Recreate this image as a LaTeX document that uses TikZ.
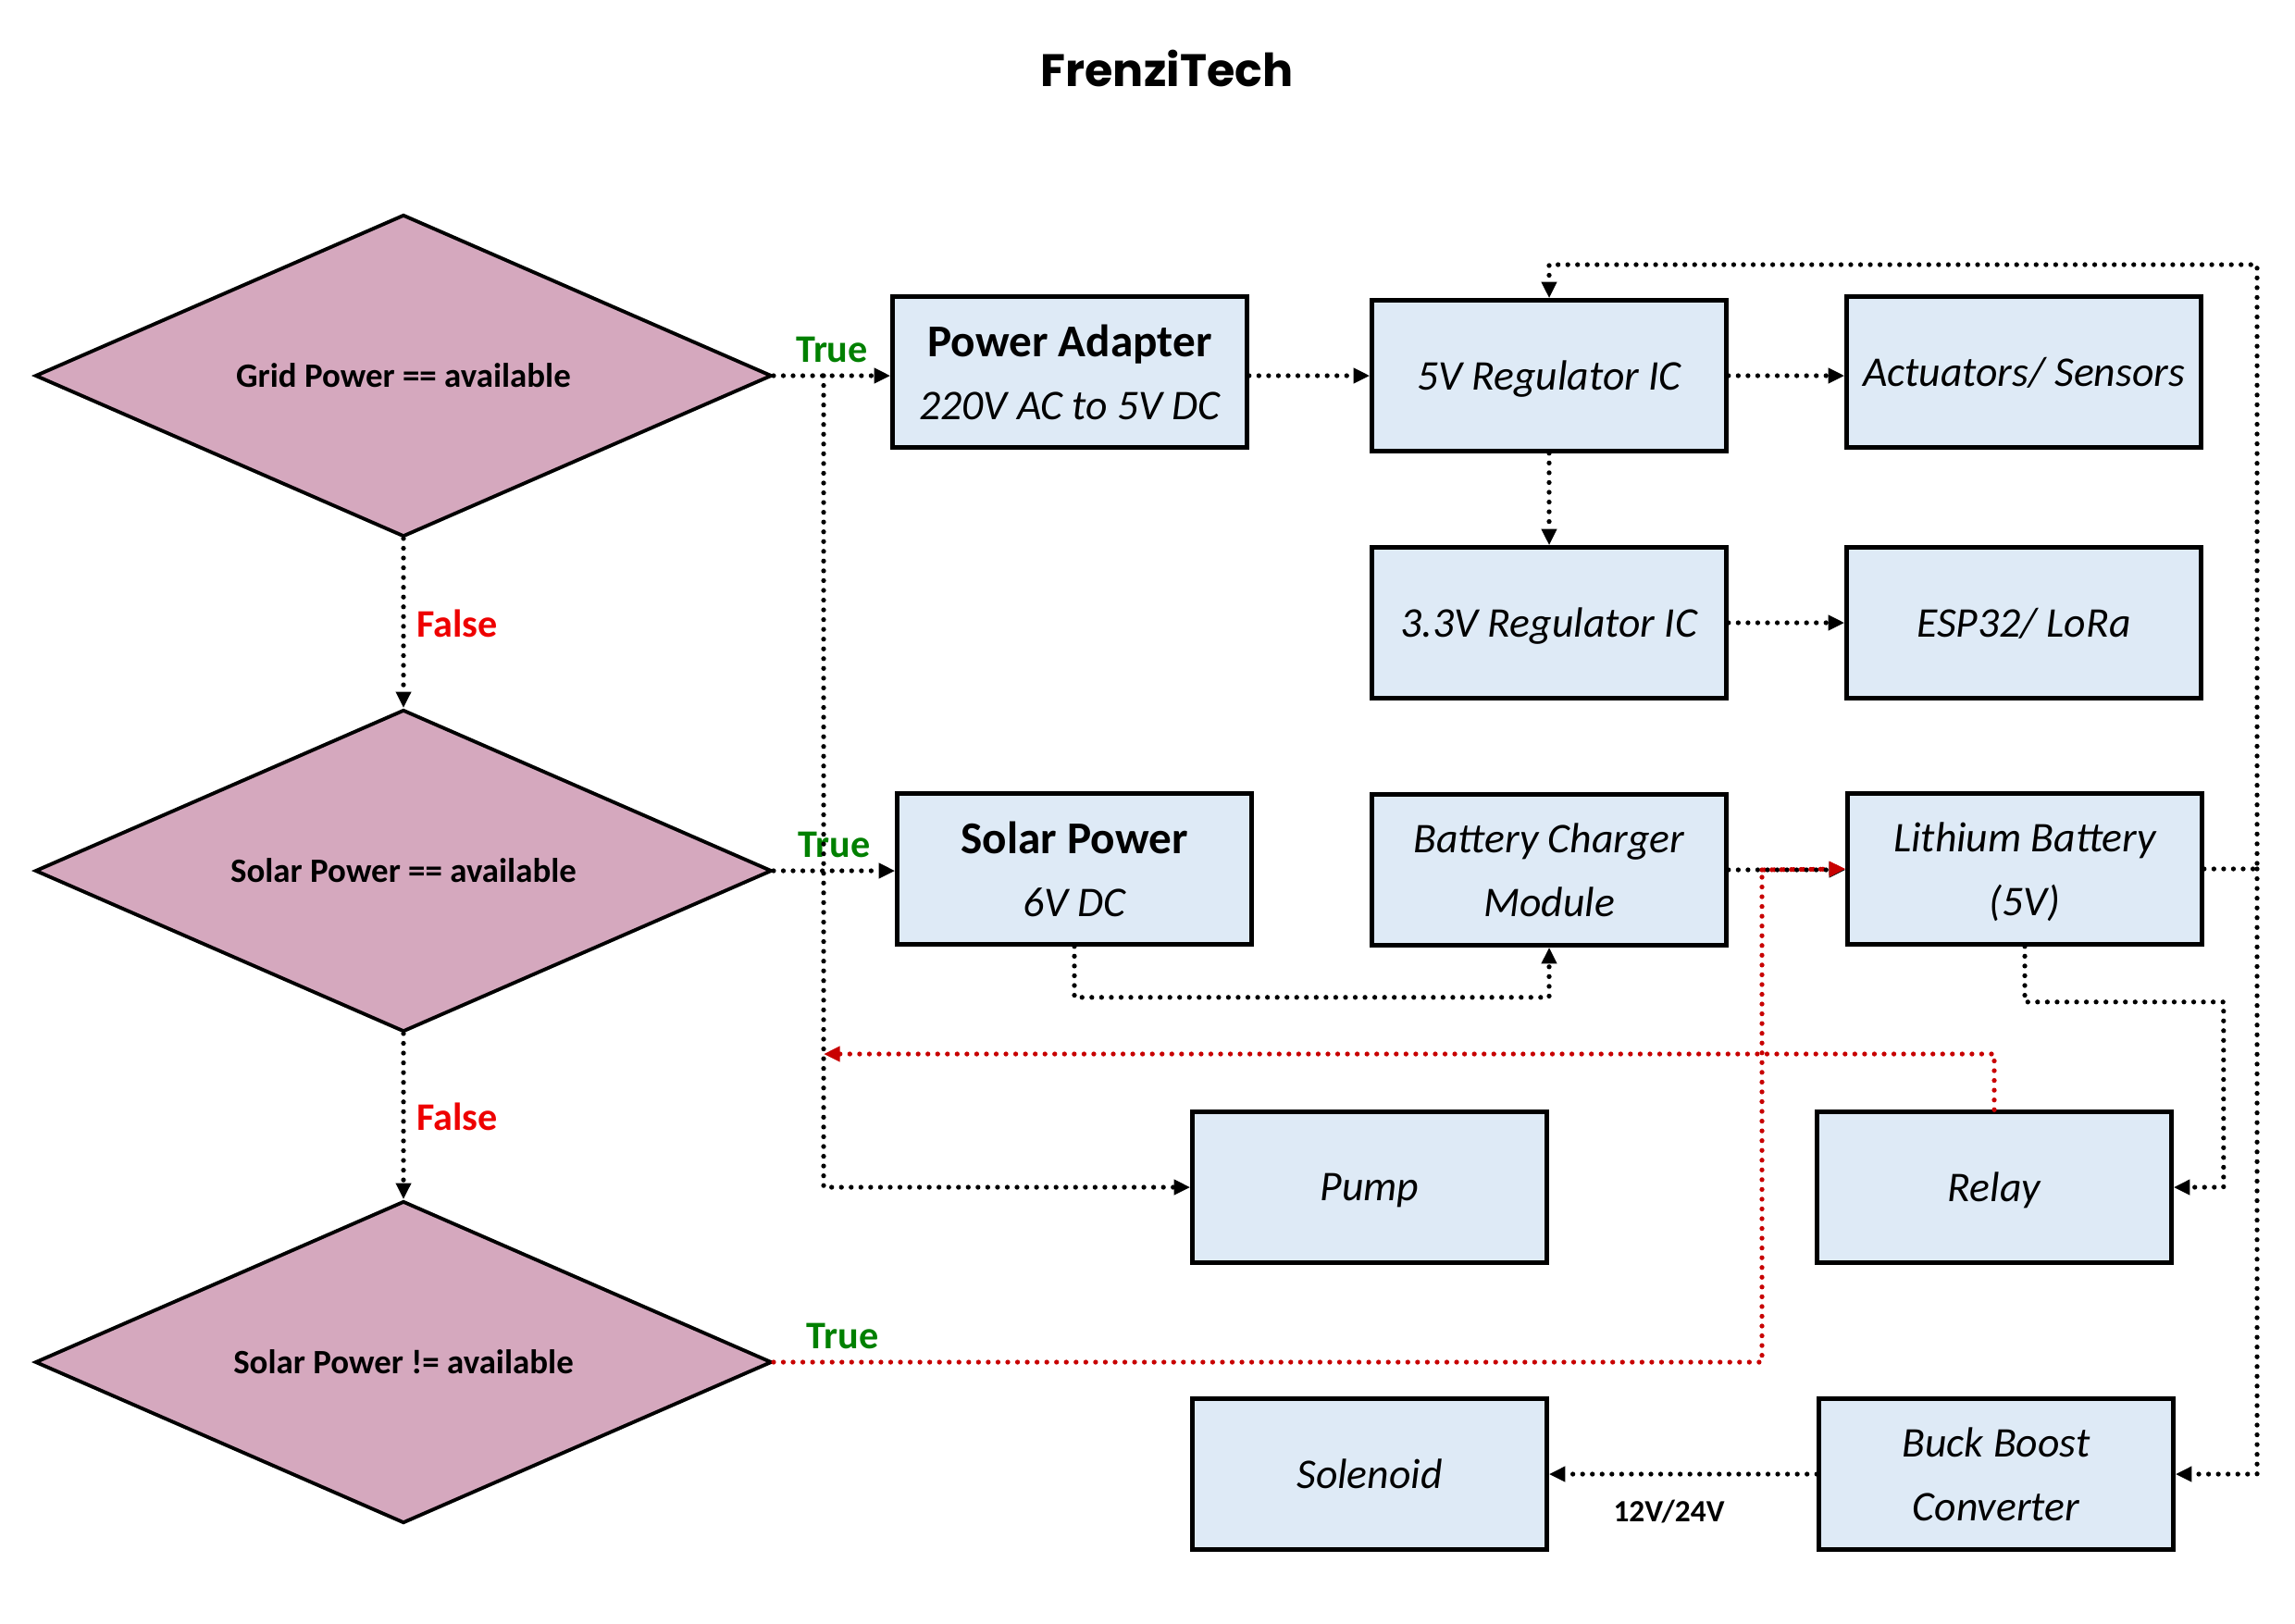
\documentclass[tikz,border=0pt]{standalone}
\usepackage{fontspec}
\setmainfont{Carlito}
\newfontfamily\titlefont{Poppins}
\usetikzlibrary{shapes.geometric,arrows.meta}

\definecolor{boxblue}{RGB}{222,234,246}
\definecolor{diamondpink}{RGB}{213,168,190}
\definecolor{truegreen}{RGB}{0,128,0}
\definecolor{falsered}{RGB}{238,0,0}
\definecolor{linered}{RGB}{200,0,0}

\begin{document}
\begin{tikzpicture}[
  >={Triangle[length=5pt,width=4.5pt]},
  decision/.style={
    draw,
    diamond,
    aspect=2.3,
    line width=1.1pt,
    fill=diamondpink,
    minimum width=7.96cm,
    minimum height=3.48cm,
    inner sep=0pt,
    font=\fontsize{10.5}{12}\selectfont\bfseries
  },
  box/.style={
    draw,
    rectangle,
    align=center,
    minimum width=3.83cm,
    minimum height=1.63cm,
    text depth=0pt,
    line width=1.3pt,
    fill=boxblue,
    font=\fontsize{13}{19.5}\selectfont\itshape
  },
  conn/.style={->, line width=1.5pt, line cap=round, dash pattern=on 0pt off 3pt},
  redconn/.style={conn, draw=linered},
  truelbl/.style={text=truegreen, font=\fontsize{12}{14}\selectfont\bfseries},
  falselbl/.style={text=falsered, font=\fontsize{12}{14}\selectfont\bfseries}
]

\useasboundingbox (0,0) rectangle (24.8,-17.54);

\node[font=\fontsize{14}{16}\titlefont\bfseries\selectfont] (title) at (12.61,-0.74) {FrenziTech};

% decisions
\node[decision] (grid) at (4.36,-4.06) {Grid Power == available};
\node[decision] (solar) at (4.36,-9.41) {Solar Power == available};
\node[decision] (nosolar) at (4.36,-14.72) {Solar Power != available};

% blocks
\node[box] (adapter) at (11.56,-4.02) {{\upshape\bfseries\fontsize{14}{19.5}\selectfont Power Adapter}\\220V AC to 5V DC};
\node[box] (reg5) at (16.74,-4.06) {5V Regulator IC};
\node[box] (act) at (21.87,-4.02) {Actuators/ Sensors};
\node[box] (reg33) at (16.74,-6.73) {3.3V Regulator IC};
\node[box] (esp) at (21.87,-6.73) {ESP32/ LoRa};
\node[box] (solarpw) at (11.61,-9.39) {{\upshape\bfseries\fontsize{14}{19.5}\selectfont Solar Power}\\6V DC};
\node[box] (charger) at (16.74,-9.40) {Battery Charger\\Module};
\node[box] (battery) at (21.88,-9.39) {Lithium Battery\\(5V)};
\node[box] (pump) at (14.80,-12.83) {Pump};
\node[box] (relay) at (21.55,-12.83) {Relay};
\node[box] (solenoid) at (14.80,-15.93) {Solenoid};
\node[box] (buck) at (21.57,-15.93) {Buck Boost\\Converter};

\coordinate (split) at (8.90,-4.06);
\coordinate (bus) at (8.90,-11.39);
\coordinate (rail) at (24.39,-2.86);

% decision flow
\draw[conn] (grid.east) -- node[truelbl, above] {True} (grid.east -| adapter.west);
\draw[conn] (solar.east) -- node[truelbl, above] {True} (solar.east -| solarpw.west);
\draw[conn] (grid.south) -- node[falselbl, right=0pt] {False} (solar.north);
\draw[conn] (solar.south) -- node[falselbl, right=0pt] {False} (nosolar.north);
\draw[conn] (split) |- (pump.west);
\draw[redconn] (nosolar.east) -| node[truelbl, above, pos=0.035] {True} (19.04,-9.40) -- (battery.west);

% power chain
\draw[conn] (adapter.east |- reg5.west) -- (reg5.west);
\draw[conn] (reg5.east) -- (reg5.east -| act.west);
\draw[conn] (reg5.south) -- (reg33.north);
\draw[conn] (reg33.east) -- (esp.west);
\draw[conn] (solarpw.south) -- ++(0,-0.55) -| (charger.south);
\draw[conn] (charger.east) -- (charger.east -| battery.west);
\draw[redconn] (19.04,-9.40) -- (battery.west);
\draw[conn] (battery.east) -| (rail) -| (reg5.north);
\draw[conn] (battery.east -| rail) |- (buck.east);
\draw[conn] (battery.south) -- ++(0,-0.60) -| ([xshift=0.54cm]relay.east) -- (relay.east);
\draw[redconn] (relay.north) |- (bus);
\draw[conn] (buck.west) -- node[below=4pt, xshift=-0.15cm, font=\fontsize{9.5}{11}\selectfont\bfseries] {12V/24V} (solenoid.east);

\end{tikzpicture}
\end{document}
